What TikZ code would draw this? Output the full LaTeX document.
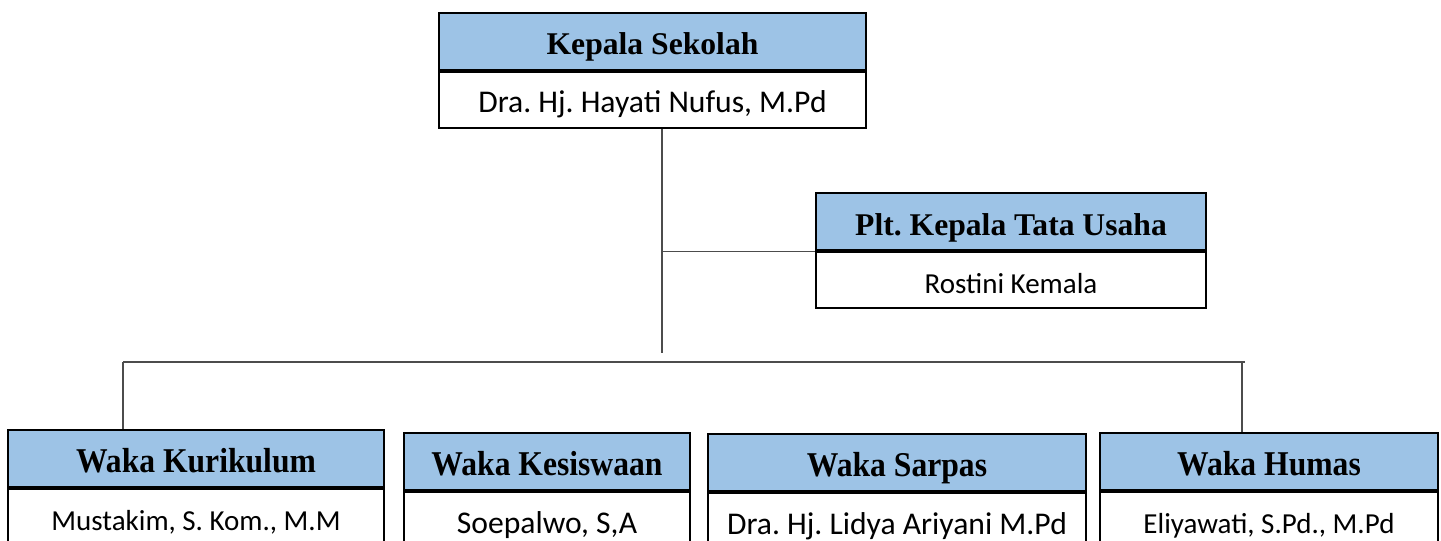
\documentclass[tikz,border=0pt]{standalone}
\usepackage{fontspec}
\setmainfont{Carlito}
\newfontfamily\headfont{Liberation Serif}
\usetikzlibrary{positioning}
\definecolor{headblue}{RGB}{157,195,230}
\frenchspacing
\newcommand{\tallhead}[1]{\scalebox{1}[1.1]{#1}}

\begin{document}
\begin{tikzpicture}[x=0.02cm, y=-0.02cm,
head/.style={draw, line width=1.2pt, fill=headblue, rectangle, anchor=north west, inner sep=0pt, minimum width=#1, minimum height=1.14cm, text height=0.64cm, text depth=0.1cm, font=\headfont\fontsize{18}{20}\selectfont\bfseries},
person/.style={draw, line width=1.2pt, fill=white, rectangle, inner sep=0pt, minimum width=#1, minimum height=1.12cm, text height=0.62cm, text depth=0.1cm, font=\fontsize{16.5}{19}\selectfont},
bigname/.style={font=\fontsize{18}{20}\selectfont},
link/.style={draw=black!70, line width=0.6pt}]

\useasboundingbox (0,0) rectangle (1441,541);

% kepala sekolah
\node[head=8.54cm]    (ksHead) at (438,11.7)          {Kepala Sekolah};
\node[person=8.54cm, bigname]  (ksName) [below=0pt of ksHead] {Dra. Hj. Hayati Nufus, M.Pd};

% tata usaha
\node[head=7.8cm]     (tuHead) at (815,192)           {Plt. Kepala Tata Usaha};
\node[person=7.8cm]   (tuName) [below=0pt of tuHead] {Rostini Kemala};

% wakil kepala
\node[head=7.52cm]    (kurHead) at (7,429)            {\tallhead{Waka Kurikulum}};
\node[person=7.52cm]  (kurName) [below=0pt of kurHead] {Mustakim, S. Kom., M.M};

\node[head=5.72cm]    (kesHead) at (403,432)          {\tallhead{Waka Kesiswaan}};
\node[person=5.72cm, bigname]  (kesName) [below=0pt of kesHead] {Soepalwo, S,A};

\node[head=7.56cm]    (sarHead) at (707,433)          {\tallhead{Waka Sarpas}};
\node[person=7.56cm, bigname]  (sarName) [below=0pt of sarHead] {Dra. Hj. Lidya Ariyani M.Pd};

\node[head=6.76cm]    (humHead) at (1099,432)         {\tallhead{Waka Humas}};
\node[person=6.76cm]  (humName) [below=0pt of humHead] {Eliyawati, S.Pd., M.Pd};

% garis
\coordinate (trunk) at (662,353);
\coordinate (busL)  at (123,362);
\coordinate (busR)  at (1245,362);
\coordinate (dropR) at (1242,362);

\draw[link] (ksName.south -| trunk) -- (trunk);
\draw[link] (tuName.north west -| trunk) -- (tuName.north west);
\draw[link] (busL) -- (busR);
\draw[link] (busL) -- (busL |- kurHead.north);
\draw[link] (dropR) -- (dropR |- humHead.north);

\end{tikzpicture}
\end{document}
